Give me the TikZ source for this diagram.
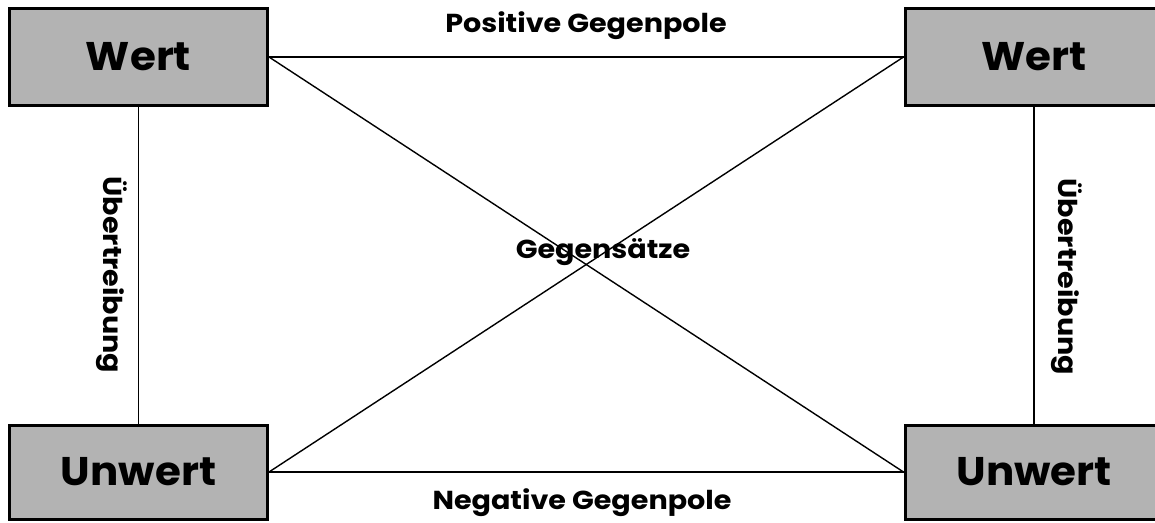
\documentclass[tikz,border=0pt]{standalone}
\usepackage{fontspec}
\setmainfont{Poppins}
\definecolor{boxgray}{HTML}{B3B3B3}

\begin{document}
\begin{tikzpicture}[
  x=1pt, y=-1pt,
  pol/.style={draw,line width=3pt,fill=boxgray,minimum width=258pt,
    minimum height=97pt,inner sep=0pt,
    font=\bfseries\fontsize{40}{44}\selectfont\addfontfeatures{FakeStretch=1.05}},
  lbl/.style={inner sep=0pt,
    font=\bfseries\fontsize{26}{30}\selectfont\addfontfeatures{FakeStretch=1.1}},
  link/.style={draw,line width=1.4pt}
]
  \useasboundingbox (0,0) rectangle (1155,522);
  % vier Pole
  \node[pol] (wertL) at (138.5,57) {Wert};
  \node[pol] (wertR) at (1034,57) {Wert};
  \node[pol,minimum height=94pt] (unwertL) at (138.5,472) {Unwert};
  \node[pol,minimum height=94pt] (unwertR) at (1034,472) {Unwert};
  % Verbindungen
  \path[link] (wertL.east) -- (wertR.west);
  \path[link] (unwertL.east) -- (unwertR.west);
  \path[link] (wertL.east) -- (unwertR.west);
  \path[link] (unwertL.east) -- (wertR.west);
  \path[link] (wertL) -- (unwertL);
  \path[link] (wertR) -- (unwertR);
  % Beschriftungen
  \node[lbl] (pos) at (586,26) {Positive Gegenpole};
  \node[lbl] (neg) at (582,503) {Negative Gegenpole};
  \node[lbl] (geg) at (603,252) {Gegensätze};
  \node[lbl,rotate=-90] (uebL) at (112,275) {Übertreibung};
  \node[lbl,rotate=-90] (uebR) at (1067,277) {Übertreibung};
\end{tikzpicture}
\end{document}
